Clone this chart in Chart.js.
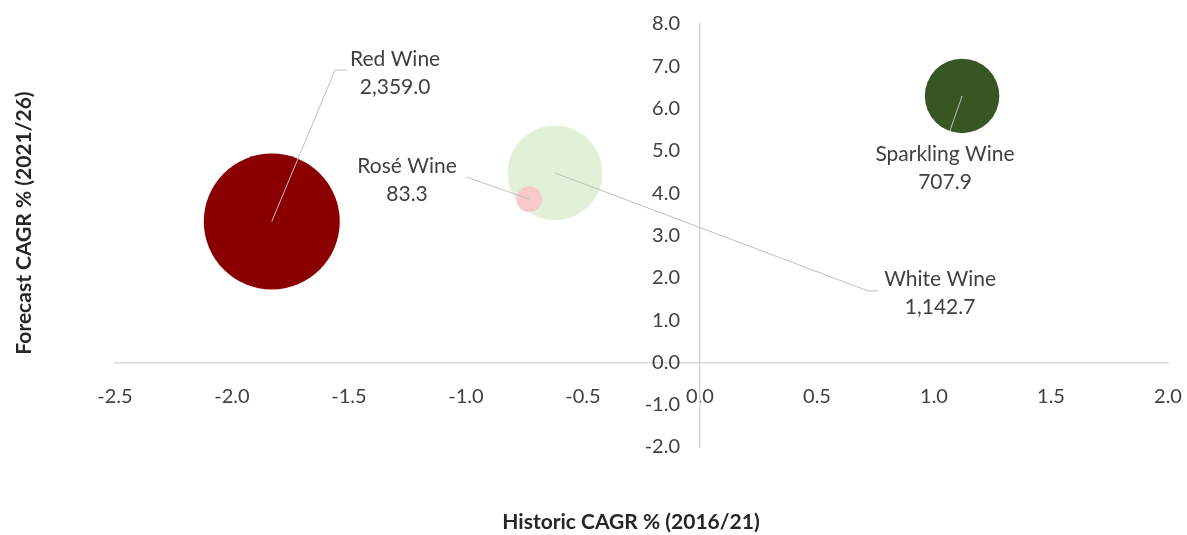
<!DOCTYPE html>
<html>
<head>
<meta charset="utf-8">
<script src="https://cdn.jsdelivr.net/npm/chart.js@4.4.1/dist/chart.umd.min.js"></script>
<style>
  html, body { margin: 0; padding: 0; background: #ffffff; }
  #wrap { width: 1187px; height: 535px; }
</style>
</head>
<body>
<div id="wrap"><canvas id="c" width="1187" height="535"></canvas></div>
<script>
// ---- data ----
const categories = ['Red Wine', 'White Wine', 'Rosé Wine', 'Sparkling Wine'];
const historicCAGR = [-1.83, -0.62, -0.73, 1.12];   // x
const forecastCAGR = [3.33, 4.48, 3.86, 6.30];      // y
const marketSize = [2359.0, 1142.7, 83.3, 707.9];   // bubble size
const valueLabels = ['2,359.0', '1,142.7', '83.3', '707.9'];
const xTicks = [-2.5, -2.0, -1.5, -1.0, -0.5, 0.0, 0.5, 1.0, 1.5, 2.0];
const yTicks = [-2.0, -1.0, 0.0, 1.0, 2.0, 3.0, 4.0, 5.0, 6.0, 7.0, 8.0];

// ---- styles / layout ----
const colors = ['#8a0000', '#e2f0d9', '#f8c9c9', '#375623'];
const maxRadius = 68;
const textColor = '#404040';
const axisColor = '#d9d9d9';
const leaderColor = '#bfbfbf';
const yLabelGap = 20;
// label placement in axis units: centre of the two-line label, and leader-line path points
const labelAnchors = [
  { cx: -1.303, cy: 6.83, path: [[-1.509, 6.91], [-1.560, 6.91]] },
  { cx: 1.026,  cy: 1.64, path: [[0.761, 1.69], [0.718, 1.69]] },
  { cx: -1.252, cy: 4.30, path: [[-0.996, 4.38]] },
  { cx: 1.047,  cy: 4.60, path: [[1.068, 5.47]] }
];

const maxSize = Math.max(...marketSize);
const points = categories.map((c, i) => ({
  x: historicCAGR[i],
  y: forecastCAGR[i],
  r: maxRadius * Math.sqrt(marketSize[i] / maxSize)
}));

// crossing axes should not take any room from the plot area
const noRoom = (s) => {
  if (s.isHorizontal()) { s.height = 0; } else { s.width = 0; }
  s.paddingLeft = s.paddingRight = s.paddingTop = s.paddingBottom = 0;
};

const labelPlugin = {
  id: 'labelPlugin',
  beforeDraw(chart) {
    // keep a gap between the crossing y axis and its tick labels
    const items = chart.scales.y.getLabelItems();
    if (!items._shifted) {
      items.forEach(it => { it.options.translation[0] -= yLabelGap; });
      items._shifted = true;
    }
  },
  afterDatasetsDraw(chart) {
    const ctx = chart.ctx;
    const xs = chart.scales.x, ys = chart.scales.y;
    ctx.save();
    // leader lines
    ctx.strokeStyle = leaderColor;
    ctx.lineWidth = 1;
    labelAnchors.forEach((a, i) => {
      ctx.beginPath();
      ctx.moveTo(xs.getPixelForValue(a.path[0][0]), ys.getPixelForValue(a.path[0][1]));
      for (let k = 1; k < a.path.length; k++) {
        ctx.lineTo(xs.getPixelForValue(a.path[k][0]), ys.getPixelForValue(a.path[k][1]));
      }
      ctx.lineTo(xs.getPixelForValue(historicCAGR[i]), ys.getPixelForValue(forecastCAGR[i]));
      ctx.stroke();
    });
    // labels
    ctx.fillStyle = textColor;
    ctx.font = '21px Lato';
    ctx.textAlign = 'center';
    ctx.textBaseline = 'middle';
    labelAnchors.forEach((a, i) => {
      const px = xs.getPixelForValue(a.cx), py = ys.getPixelForValue(a.cy);
      ctx.fillText(categories[i], px, py - 14);
      ctx.fillText(valueLabels[i], px, py + 14);
    });
    // axis titles
    ctx.fillStyle = '#262626';
    ctx.font = 'bold 21px Lato';
    ctx.fillText('Historic CAGR % (2016/21)', 631, 522);
    ctx.translate(24, 223);
    ctx.rotate(-Math.PI / 2);
    ctx.fillText('Forecast CAGR % (2021/26)', 0, 0);
    ctx.restore();
  }
};

new Chart(document.getElementById('c'), {
  type: 'bubble',
  data: {
    datasets: [{
      data: points,
      backgroundColor: colors,
      borderColor: colors,
      borderWidth: 0,
      hoverRadius: 0
    }]
  },
  options: {
    responsive: false,
    animation: false,
    events: [],
    layout: { autoPadding: false, padding: { left: 115, right: 19, top: 24, bottom: 88 } },
    plugins: { legend: { display: false }, tooltip: { enabled: false } },
    scales: {
      x: {
        type: 'linear',
        position: { y: 0 },
        min: -2.5, max: 2.0,
        afterBuildTicks: (s) => { s.ticks = xTicks.map(v => ({ value: v })); },
        afterFit: noRoom,
        grid: { display: false, drawTicks: false },
        border: { display: true, color: axisColor, width: 1.5 },
        ticks: {
          padding: 22,
          color: textColor,
          font: { family: 'Lato', size: 20 },
          maxRotation: 0,
          callback: (v) => Number(v).toFixed(1)
        }
      },
      y: {
        type: 'linear',
        position: { x: 0 },
        min: -2, max: 8,
        afterBuildTicks: (s) => { s.ticks = yTicks.map(v => ({ value: v })); },
        afterFit: noRoom,
        grid: { display: false, drawTicks: false },
        border: { display: true, color: axisColor, width: 1.5 },
        ticks: {
          color: textColor,
          font: { family: 'Lato', size: 20 },
          callback: (v) => Number(v).toFixed(1)
        }
      }
    }
  },
  plugins: [labelPlugin]
});
</script>
</body>
</html>
